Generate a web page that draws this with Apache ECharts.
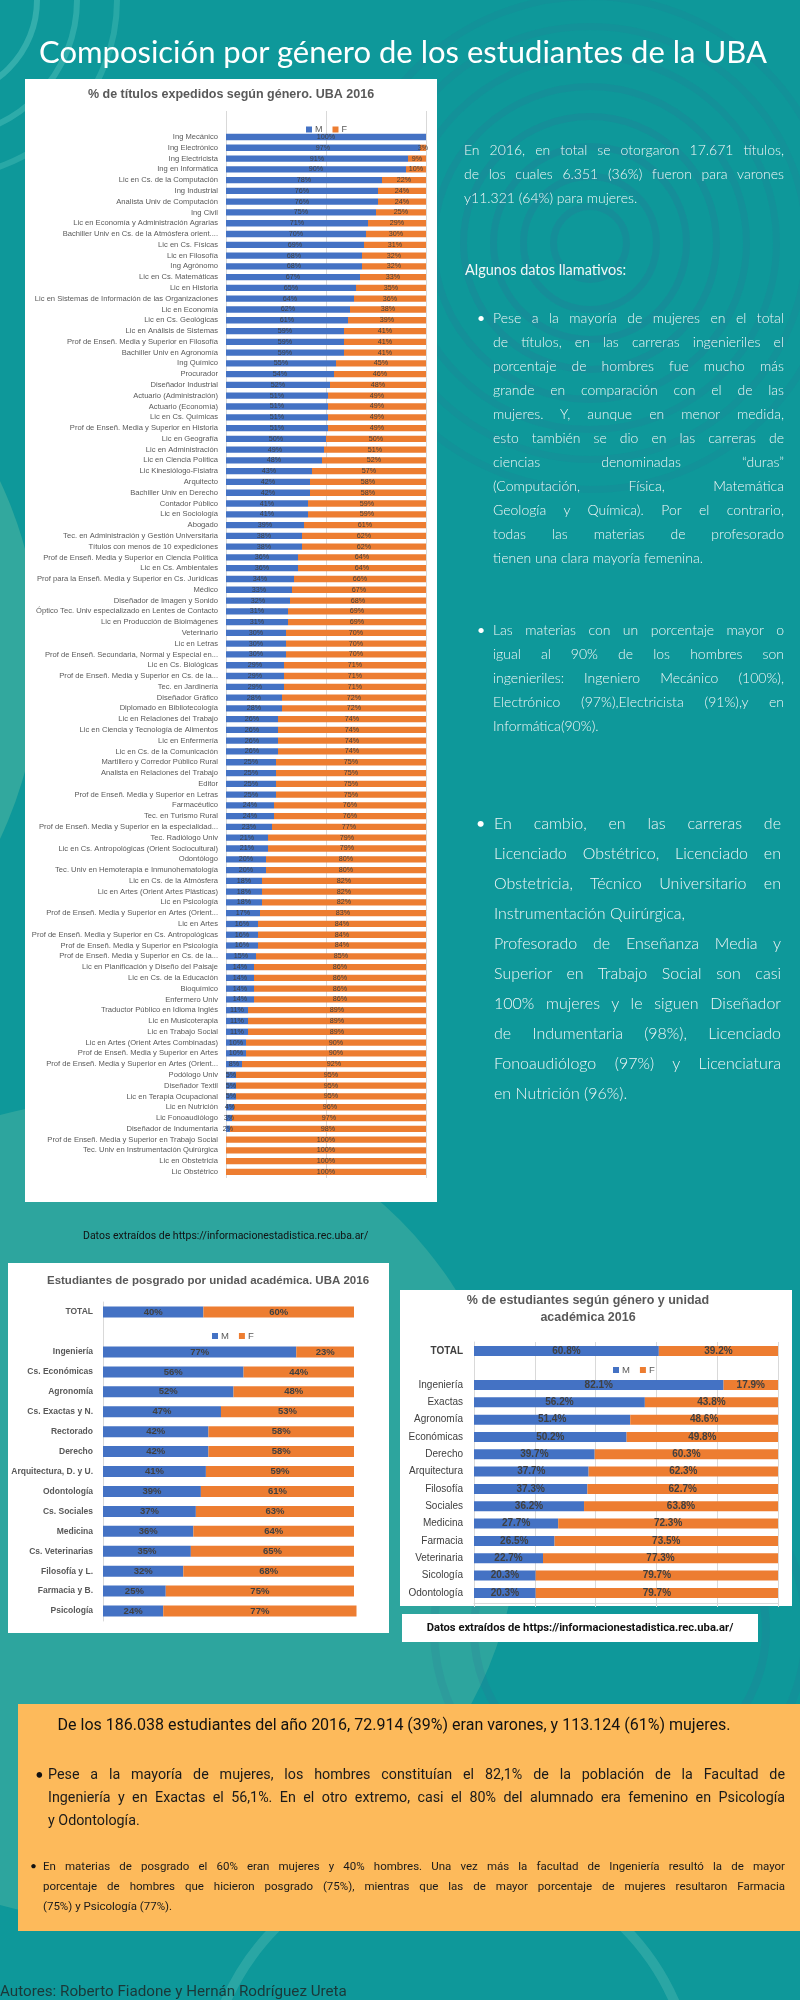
<!DOCTYPE html>
<html><head><meta charset="utf-8">
<script src="https://cdn.jsdelivr.net/npm/echarts@6/dist/echarts.min.js"></script>
<style>
html,body{margin:0;padding:0;}
body{width:800px;height:2000px;position:relative;overflow:hidden;background:#0e989a;font-family:Lato,'Noto Sans',sans-serif;}
.deco{position:absolute;border-radius:50%;box-sizing:border-box;z-index:0;}
.panel{position:absolute;background:#fff;z-index:1;}
#chart{position:absolute;left:0;top:0;width:800px;height:2000px;z-index:2;}
.txt{position:absolute;z-index:3;}
.j{text-align:justify;text-align-last:justify;white-space:nowrap;}
.l{white-space:nowrap;}
.narrow{font-family:Roboto,'Liberation Sans',sans-serif;}
</style></head>
<body>
<!-- decorations -->
<div class="deco" style="left:-800px;top:240px;width:840px;height:840px;background:#3fae9f;opacity:.75"></div>
<div class="deco" style="left:-300px;top:1100px;width:820px;height:820px;background:#3aab9f;opacity:.7"></div>
<div class="deco" style="left:-160px;top:-100px;width:200px;height:200px;border:6px solid rgba(120,215,205,.35)"></div>
<div class="deco" style="left:-200px;top:-140px;width:280px;height:280px;border:6px solid rgba(120,215,205,.3)"></div>
<div class="deco" style="left:-240px;top:-180px;width:360px;height:360px;border:6px solid rgba(120,215,205,.25)"></div>
<div class="deco" style="left:550px;top:203px;width:80px;height:80px;border:7px solid rgba(50,110,150,.22)"></div>
<div class="deco" style="left:520px;top:173px;width:140px;height:140px;border:7px solid rgba(50,110,150,.22)"></div>
<div class="deco" style="left:490px;top:143px;width:200px;height:200px;border:7px solid rgba(50,110,150,.22)"></div>
<div class="deco" style="left:460px;top:113px;width:260px;height:260px;border:7px solid rgba(50,110,150,.2)"></div>
<div class="deco" style="left:430px;top:83px;width:320px;height:320px;border:7px solid rgba(50,110,150,.18)"></div>
<div class="deco" style="left:400px;top:53px;width:380px;height:380px;border:7px solid rgba(50,110,150,.16)"></div>
<div class="deco" style="left:370px;top:23px;width:440px;height:440px;border:7px solid rgba(50,110,150,.14)"></div>
<div class="deco" style="left:340px;top:-7px;width:500px;height:500px;border:7px solid rgba(50,110,150,.12)"></div>
<div class="deco" style="left:470px;top:1480px;width:300px;height:300px;border:8px solid rgba(50,110,150,.18)"></div>
<div class="deco" style="left:430px;top:1440px;width:380px;height:380px;border:8px solid rgba(50,110,150,.15)"></div>
<div class="deco" style="left:200px;top:1850px;width:500px;height:500px;border:10px solid rgba(110,200,190,.3)"></div>

<!-- panels -->
<div class="panel" style="left:25px;top:79px;width:412px;height:1123px;"></div>
<div class="panel" style="left:8px;top:1263px;width:381px;height:370px;"></div>
<div class="panel" style="left:400px;top:1290px;width:392px;height:316px;"></div>
<div class="panel" style="left:402px;top:1614px;width:356px;height:28px;"></div>
<div class="panel" style="left:18px;top:1704px;width:782px;height:227px;background:#fdba5b;"></div>

<div id="chart"></div>

<!-- texts -->
<div class="txt" style="left:0;top:33px;width:806px;text-align:center;color:#fff;font-size:31px;line-height:36px;white-space:nowrap;">Composición por género de los estudiantes de la UBA</div>

<div class="txt" style="left:464px;top:138px;width:320px;font-size:14px;line-height:24px;font-weight:300;color:#f2f6f6;">
<div class="j">En 2016, en total se otorgaron 17.671 títulos,</div>
<div class="j">de los cuales 6.351 (36%) fueron para varones</div>
<div class="l">y11.321 (64%) para mujeres.</div>
</div>
<div class="txt" style="left:465px;top:258px;color:#f2f6f6;font-size:14.5px;line-height:24px;">Algunos datos llamativos:</div>

<div class="txt" style="left:477px;top:306px;color:#fff;font-size:14px;line-height:24px;">•</div>
<div class="txt" style="left:493px;top:306px;width:291px;font-size:14px;line-height:24px;font-weight:300;color:#f2f6f6;">
<div class="j">Pese a la mayoría de mujeres en el total</div>
<div class="j">de títulos, en las carreras ingenieriles el</div>
<div class="j">porcentaje de hombres fue mucho más</div>
<div class="j">grande en comparación con el de las</div>
<div class="j">mujeres. Y, aunque en menor medida,</div>
<div class="j">esto también se dio en las carreras de</div>
<div class="j">ciencias denominadas “duras”</div>
<div class="j">(Computación, Física, Matemática</div>
<div class="j">Geología y Química). Por el contrario,</div>
<div class="j">todas las materias de profesorado</div>
<div class="l">tienen una clara mayoría femenina.</div>
</div>

<div class="txt" style="left:477px;top:618px;color:#fff;font-size:14px;line-height:24px;">•</div>
<div class="txt" style="left:493px;top:618px;width:291px;font-size:14px;line-height:24px;font-weight:300;color:#f2f6f6;">
<div class="j">Las materias con un porcentaje mayor o</div>
<div class="j">igual al 90% de los hombres son</div>
<div class="j">ingenieriles: Ingeniero Mecánico (100%),</div>
<div class="j">Electrónico (97%),Electricista (91%),y en</div>
<div class="l">Informática(90%).</div>
</div>

<div class="txt" style="left:476px;top:808px;color:#fff;font-size:16px;line-height:30px;">•</div>
<div class="txt" style="left:494px;top:808px;width:287px;font-size:16px;line-height:30px;font-weight:300;color:#f2f6f6;">
<div class="j">En cambio, en las carreras de</div>
<div class="j">Licenciado Obstétrico, Licenciado en</div>
<div class="j">Obstetricia, Técnico Universitario en</div>
<div class="l">Instrumentación Quirúrgica,</div>
<div class="j">Profesorado de Enseñanza Media y</div>
<div class="j">Superior en Trabajo Social son casi</div>
<div class="j">100% mujeres y le siguen Diseñador</div>
<div class="j">de Indumentaria (98%), Licenciado</div>
<div class="j">Fonoaudiólogo (97%) y Licenciatura</div>
<div class="l">en Nutrición (96%).</div>
</div>

<div class="txt narrow" style="left:83px;top:1229px;color:#111;font-size:10.5px;line-height:14px;white-space:nowrap;">Datos extraídos de https://informacionestadistica.rec.uba.ar/</div>
<div class="txt narrow" style="left:402px;top:1614px;width:356px;text-align:center;color:#111;font-size:11.2px;line-height:28px;font-weight:bold;white-space:nowrap;">Datos extraídos de https://informacionestadistica.rec.uba.ar/</div>

<div class="txt narrow" style="left:40px;top:1713px;width:708px;text-align:center;color:#111;font-size:16px;line-height:24px;white-space:nowrap;">De los 186.038 estudiantes del año 2016, 72.914 (39%) eran varones, y 113.124 (61%) mujeres.</div>

<div class="txt" style="left:35px;top:1763px;color:#111;font-size:15px;line-height:23px;">•</div>
<div class="txt narrow" style="left:48px;top:1763px;width:737px;color:#1a1a1a;font-size:14.3px;line-height:23px;">
<div class="j">Pese a la mayoría de mujeres, los hombres constituían el 82,1% de la población de la Facultad de</div>
<div class="j">Ingeniería y en Exactas el 56,1%. En el otro extremo, casi el 80% del alumnado era femenino en Psicología</div>
<div class="l">y Odontología.</div>
</div>

<div class="txt" style="left:30px;top:1856px;color:#111;font-size:12px;line-height:20px;">•</div>
<div class="txt narrow" style="left:43px;top:1856px;width:742px;color:#1a1a1a;font-size:11.5px;line-height:20px;">
<div class="j">En materias de posgrado el 60% eran mujeres y 40% hombres. Una vez más la facultad de Ingeniería resultó la de mayor</div>
<div class="j">porcentaje de hombres que hicieron posgrado (75%), mientras que las de mayor porcentaje de mujeres resultaron Farmacia</div>
<div class="l">(75%) y Psicología (77%).</div>
</div>

<div class="txt narrow" style="left:0;top:1981px;color:#1b3838;font-size:15.2px;line-height:20px;white-space:nowrap;">Autores: Roberto Fiadone y Hernán Rodríguez Ureta</div>

<script>
// ---------- Chart 1: % de títulos expedidos según género. UBA 2016 ----------
const titulosCats = [
  'Ing Mecánico','Ing Electrónico','Ing Electricista','Ing en Informática','Lic en Cs. de la Computación',
  'Ing Industrial','Analista Univ de Computación','Ing Civil','Lic en Economía y Administración Agrarias','Bachiller Univ en Cs. de la Atmósfera orient....',
  'Lic en Cs. Físicas','Lic en Filosofía','Ing Agrónomo','Lic en Cs. Matemáticas','Lic en Historia',
  'Lic en Sistemas de Información de las Organizaciones','Lic en Economía','Lic en Cs. Geológicas','Lic en Análisis de Sistemas','Prof de Enseñ. Media y Superior en Filosofía',
  'Bachiller Univ en Agronomía','Ing Químico','Procurador','Diseñador Industrial','Actuario (Administración)',
  'Actuario (Economía)','Lic en Cs. Químicas','Prof de Enseñ. Media y Superior en Historia','Lic en Geografía','Lic en Administración',
  'Lic en Ciencia Política','Lic Kinesiólogo-Fisiatra','Arquitecto','Bachiller Univ en Derecho','Contador Público',
  'Lic en Sociología','Abogado','Tec. en Administración y Gestión Universitaria','Títulos con menos de 10 expediciones','Prof de Enseñ. Media y Superior en Ciencia Política',
  'Lic en Cs. Ambientales','Prof para la Enseñ. Media y Superior en Cs. Jurídicas','Médico','Diseñador de Imagen y Sonido','Óptico Tec. Univ especializado en Lentes de Contacto',
  'Lic en Producción de Bioimágenes','Veterinario','Lic en Letras','Prof de Enseñ. Secundaria, Normal y Especial en...','Lic en Cs. Biológicas',
  'Prof de Enseñ. Media y Superior en Cs. de la...','Tec. en Jardinería','Diseñador Gráfico','Diplomado en Bibliotecología','Lic en Relaciones del Trabajo',
  'Lic en Ciencia y Tecnología de Alimentos','Lic en Enfermería','Lic en Cs. de la Comunicación','Martillero y Corredor Público Rural','Analista en Relaciones del Trabajo',
  'Editor','Prof de Enseñ. Media y Superior en Letras','Farmacéutico','Tec. en Turismo Rural','Prof de Enseñ. Media y Superior en la especialidad...',
  'Tec. Radiólogo Univ','Lic en Cs. Antropológicas (Orient Sociocultural)','Odontólogo','Tec. Univ en Hemoterapia e Inmunohematología','Lic en Cs. de la Atmósfera',
  'Lic en Artes (Orient Artes Plásticas)','Lic en Psicología','Prof de Enseñ. Media y Superior en Artes (Orient...','Lic en Artes','Prof de Enseñ. Media y Superior en Cs. Antropológicas',
  'Prof de Enseñ. Media y Superior en Psicología','Prof de Enseñ. Media y Superior en Cs. de la...','Lic en Planificación y Diseño del Paisaje','Lic en Cs. de la Educación','Bioquímico',
  'Enfermero Univ','Traductor Público en Idioma Inglés','Lic en Musicoterapia','Lic en Trabajo Social','Lic en Artes (Orient Artes Combinadas)',
  'Prof de Enseñ. Media y Superior en Artes','Prof de Enseñ. Media y Superior en Artes (Orient...','Podólogo Univ','Diseñador Textil','Lic en Terapia Ocupacional',
  'Lic en Nutrición','Lic Fonoaudiólogo','Diseñador de Indumentaria','Prof de Enseñ. Media y Superior en Trabajo Social','Tec. Univ en Instrumentación Quirúrgica',
  'Lic en Obstetricia','Lic Obstétrico'
];
const titulosM = [100,97,91,90,78,76,76,75,71,70, 69,68,68,67,65,64,62,61,59,59, 59,55,54,52,51,51,51,51,50,49,
  48,43,42,42,41,41,39,38,38,36, 36,34,33,32,31,31,30,30,30,29, 29,29,28,28,26,26,26,26,25,25,
  25,25,24,24,23,21,21,20,20,18, 18,18,17,16,16,16,15,14,14,14, 14,11,11,11,10,10,8,5,5,5, 4,3,2,0,0,0,0];
const titulosF = [0,3,9,10,22,24,24,25,29,30, 31,32,32,33,35,36,38,39,41,41, 41,45,46,48,49,49,49,49,50,51,
  52,57,58,58,59,59,61,62,62,64, 64,66,67,68,69,69,70,70,70,71, 71,71,72,72,74,74,74,74,75,75,
  75,75,76,76,77,79,79,80,80,82, 82,82,83,84,84,84,85,86,86,86, 86,89,89,89,90,90,92,95,95,95, 96,97,98,100,100,100,100];

// ---------- Chart 2: Estudiantes de posgrado por unidad académica. UBA 2016 ----------
const posTotalCat = ['TOTAL'];
const posTotalM = [40];
const posTotalF = [60];
const posCats = ['Ingeniería','Cs. Económicas','Agronomía','Cs. Exactas y N.','Rectorado','Derecho','Arquitectura, D. y U.',
  'Odontología','Cs. Sociales','Medicina','Cs. Veterinarias','Filosofía y L.','Farmacia y B.','Psicología'];
const posM = [77,56,52,47,42,42,41,39,37,36,35,32,25,24];
const posF = [23,44,48,53,58,58,59,61,63,64,65,68,75,77];

// ---------- Chart 3: % de estudiantes según género y unidad académica 2016 ----------
const estTotalCat = ['TOTAL'];
const estTotalM = [60.8];
const estTotalF = [39.2];
const estCats = ['Ingeniería','Exactas','Agronomía','Económicas','Derecho','Arquitectura','Filosofía','Sociales',
  'Medicina','Farmacia','Veterinaria','Sicología','Odontología'];
const estM = [82.1,56.2,51.4,50.2,39.7,37.7,37.3,36.2,27.7,26.5,22.7,20.3,20.3];
const estF = [17.9,43.8,48.6,49.8,60.3,62.3,62.7,63.8,72.3,73.5,77.3,79.7,79.7];

const BLUE = '#4472C4', ORANGE = '#ED7D31';
const FONT = "'Liberation Sans', Arial, sans-serif";

const grids = [
  {left:226, top:111, width:200, height:1067},      // 0 bg chart1
  {left:226, top:131.6, width:200, height:1045.7},  // 1 chart1 bars
  {left:103, top:1302, width:251, height:319},      // 2 bg chart2
  {left:103, top:1302, width:251, height:20},       // 3 chart2 total
  {left:103, top:1342, width:251, height:279},      // 4 chart2 main
  {left:474, top:1342, width:304, height:261},      // 5 bg chart3
  {left:474, top:1342.3, width:304, height:17.3},   // 6 chart3 total
  {left:474, top:1376.3, width:304, height:225.3}   // 7 chart3 main
];

function hiddenX(g){ return {type:'value', gridIndex:g, min:0, max:100, show:false}; }
function catY(g, data, fs, color, weight, margin){
  return {type:'category', gridIndex:g, data:data, inverse:true,
    axisLine:{show:false}, axisTick:{show:false}, splitLine:{show:false},
    axisLabel:{interval:0, fontSize:fs, color:color, fontWeight:weight, margin:margin, fontFamily:FONT}};
}
const xAxes = [
  {type:'value', gridIndex:0, min:0, max:100, interval:50, axisLabel:{show:false}, axisTick:{show:false}, axisLine:{show:false},
    splitLine:{show:true, lineStyle:{color:'#d9d9d9', width:1}}},
  hiddenX(1),
  {type:'value', gridIndex:2, min:0, max:100, show:false},
  hiddenX(3), hiddenX(4),
  {type:'value', gridIndex:5, min:0, max:100, interval:20, axisLabel:{show:false},
    axisLine:{show:true, lineStyle:{color:'#d9d9d9'}}, axisTick:{show:true, length:4, lineStyle:{color:'#d9d9d9'}},
    splitLine:{show:true, lineStyle:{color:'#d9d9d9', width:1}}},
  hiddenX(6), hiddenX(7)
];
const yAxes = [
  {type:'value', gridIndex:0, min:0, max:1, show:false},
  catY(1, titulosCats, 7.6, '#595959', 'normal', 8),
  {type:'value', gridIndex:2, min:0, max:1, axisLabel:{show:false}, axisTick:{show:false}, splitLine:{show:false},
    axisLine:{show:true, lineStyle:{color:'#d9d9d9'}}},
  catY(3, posTotalCat, 8.5, '#595959', 'bold', 10),
  catY(4, posCats, 8.5, '#595959', 'bold', 10),
  {type:'value', gridIndex:5, min:0, max:1, axisLabel:{show:false}, axisTick:{show:false}, splitLine:{show:false},
    axisLine:{show:true, lineStyle:{color:'#d9d9d9'}}},
  catY(6, estTotalCat, 10, '#404040', 'bold', 11),
  catY(7, estCats, 10, '#404040', 'normal', 11)
];

function pct(dec){
  return function(p){ return p.value > 0 ? (dec ? p.value.toFixed(1) : p.value) + '%' : ''; };
}
function bar(name, color, idx, data, bw, fs, weight, dec){
  return {type:'bar', name:name, stack:'s'+idx, xAxisIndex:idx, yAxisIndex:idx, data:data, barWidth:bw,
    itemStyle:{color:color}, clip:false, silent:true,
    label:{show:true, position:'inside', fontSize:fs, fontWeight:weight, color:'#404040', fontFamily:FONT, formatter:pct(dec)}};
}
const series = [
  bar('M', BLUE, 1, titulosM, 6.3, 7.2, 'normal', false),
  bar('F', ORANGE, 1, titulosF, 6.3, 7.2, 'normal', false),
  bar('M', BLUE, 3, posTotalM, 11, 9.5, 'bold', false),
  bar('F', ORANGE, 3, posTotalF, 11, 9.5, 'bold', false),
  bar('M', BLUE, 4, posM, 11, 9.5, 'bold', false),
  bar('F', ORANGE, 4, posF, 11, 9.5, 'bold', false),
  bar('M', BLUE, 6, estTotalM, 10, 10, 'bold', true),
  bar('F', ORANGE, 6, estTotalF, 10, 10, 'bold', true),
  bar('M', BLUE, 7, estM, 10, 10, 'bold', true),
  bar('F', ORANGE, 7, estF, 10, 10, 'bold', true)
];
function legend(left, top, fs){
  return {data:['M','F'], left:left, top:top, itemWidth:6, itemHeight:6, itemGap:10, icon:'rect', selectedMode:false,
    textStyle:{fontSize:fs, color:'#595959', fontFamily:FONT, padding:[0,0,0,-2]}};
}
const option = {
  animation:false,
  grid:grids, xAxis:xAxes, yAxis:yAxes, series:series,
  legend:[legend(301,120,9), legend(207,1326,9.5), legend(608,1360,9.5)],
  graphic:[
    {type:'text', x:231, y:95, style:{text:'% de títulos expedidos según género. UBA 2016', fill:'#595959', font:"bold 12.5px 'Liberation Sans', Arial, sans-serif", align:'center', verticalAlign:'middle'}},
    {type:'text', x:208, y:1281, style:{text:'Estudiantes de posgrado por unidad académica. UBA 2016', fill:'#595959', font:"bold 11.5px 'Liberation Sans', Arial, sans-serif", align:'center', verticalAlign:'middle'}},
    {type:'text', x:588, y:1309.5, style:{text:'% de estudiantes según género y unidad\nacadémica 2016', fill:'#595959', font:"bold 12.5px 'Liberation Sans', Arial, sans-serif", lineHeight:17, align:'center', verticalAlign:'middle'}}
  ]
};
const chart = echarts.init(document.getElementById('chart'), null, {renderer:'canvas'});
chart.setOption(option);
</script>
</body></html>
